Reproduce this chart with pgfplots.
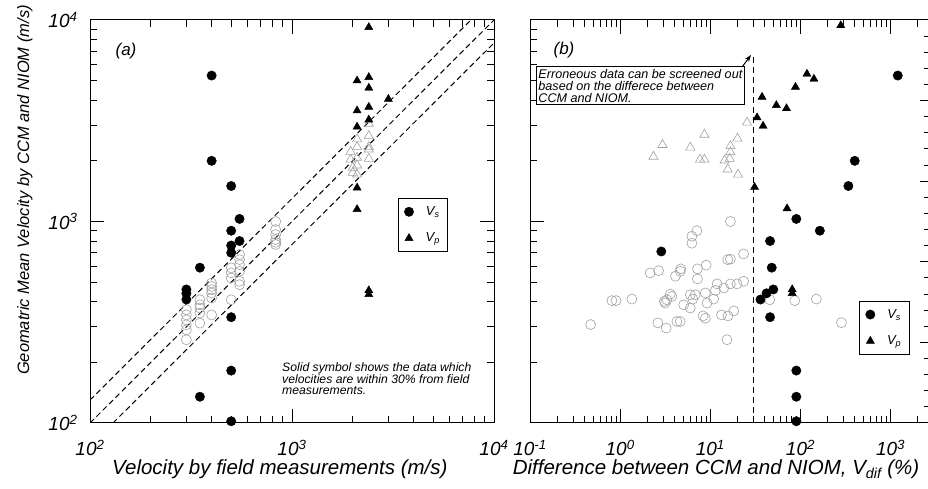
\documentclass[border=0pt]{standalone}
\usepackage{fontspec}
\setmainfont{Liberation Sans}
\usepackage{pgfplots}
\usepackage{pgfplotstable}
\pgfplotsset{compat=1.18}
\usetikzlibrary{arrows.meta}

\pgfplotstableread{
x y
300 365
300 344
300 325
300 307
300 290
300 259
350 409
350 386
350 372
350 351
350 313
400 495
400 476
400 459
400 442
400 417
400 344
500 589
500 556
500 525
500 409
550 685
550 647
550 611
550 566
550 505
550 486
830 1000
830 912
830 861
830 813
830 789
830 769
}\aGrayCirc

\pgfplotstableread{
x y
2100 2560
2100 2345
1950 2220
1950 2030
2100 2075
2100 1900
2000 1747
2100 1713
2400 3060
2400 2655
2400 2345
2400 2280
2400 2050
2000 1850
}\aGrayTri

\pgfplotstableread{
x y
400 5300
400 2000
500 1500
550 1030
500 900
550 800
500 760
500 700
350 590
300 460
300 440
300 410
500 335
500 182
350 135
500 102
}\aBlackCirc

\pgfplotstableread{
x y
2400 9200
2100 5000
2400 5200
2400 4600
3000 4050
2100 3550
2400 3700
2400 3200
2100 2950
2100 1470
2100 1150
2400 455
2400 435
}\aBlackTri

\pgfplotstableread{
x y
280 9400
118 5400
141 5100
88 4650
37.5 4150
54 3775
70 3640
33 3280
38.5 2980
31 1480
71 1160
81 460
81 440
}\bBlackTri

\pgfplotstableread{
x y
1200 5300
400 2000
340 1500
90 1030
164 900
46 800
2.86 710
48 590
50 460
42 440
36 410
46 335
90 182
90 135
90 102
}\bBlackCirc

\pgfplotstableread{
x y
25.5 3100
8.6 2700
2.95 2400
6 2330
20 2580
16.7 2370
16.7 2210
2.34 2100
7.7 2030
8.6 2030
14.4 2010
16.4 2050
15.6 1815
20.3 1710
}\bGrayTri

\pgfplotstableread{
x y
16.7 1000
7.1 900
6.25 845
6.25 780
23.4 690
15.6 647
16.7 650
9 607
7.2 582
4.7 582
2.67 570
2.15 556
4.1 535
4.64 566
7.2 519
11.9 490
16.7 490
19.8 490
23.4 505
14.1 468
11.4 455
8.8 442
3.6 436
3.75 425
6 433
6.8 433
3.3 409
3.16 394
3.1 402
6.4 412
9.2 394
10.9 412
5.06 386
6 372
0.81 405
0.9 405
1.35 412
0.47 308
2.62 314
3.24 296
4.26 319
4.64 319
8.3 340
8.8 331
13.3 344
15.7 340
18.2 360
15.3 259
45.6 409
86.5 405
150 412
285 315
}\bGrayCirc

\definecolor{lgray}{HTML}{A0A0A0}

\tikzset{
  grayCirc/.style={mark=o, mark size=5pt, draw=lgray, mark options={line width=0.6pt, draw=lgray}},
  grayTri/.style={mark=triangle, mark size=5.3pt, draw=lgray, mark options={line width=0.6pt, draw=lgray}},
  blackCirc/.style={mark=*, mark size=4.7pt, draw=black, fill=black, mark options={line width=0.4pt}},
  blackTri/.style={mark=triangle*, mark size=4.7pt, draw=black, fill=black, mark options={line width=0.4pt}},
}

\begin{document}
\begin{tikzpicture}[x=1pt,y=1pt]
\path[use as bounding box] (0,0) rectangle (928,489);

% ---------- panel (a)
\begin{axis}[at={(90pt,66pt)}, anchor=south west, scale only axis, width=404pt, height=403pt,
  xmode=log, ymode=log, xmin=100, xmax=10000, ymin=100, ymax=10000,
  axis line style={line width=1pt, black},
  tick style={line width=1pt, black},
  major tick length=14pt, minor tick length=7pt, tick align=inside,
  xtick={100,1000,10000},
  minor xtick={200,300,400,500,600,700,800,900,2000,3000,4000,5000,6000,7000,8000,9000},
  ytick={100,1000,10000},
  minor ytick={200,300,400,500,600,700,800,900,2000,3000,4000,5000,6000,7000,8000,9000},
  xticklabels={10\textsuperscript{2},10\textsuperscript{3},10\textsuperscript{4}},
  yticklabels={10\textsuperscript{2},10\textsuperscript{3},10\textsuperscript{4}},
  ticklabel style={font=\fontsize{19}{19}\selectfont\itshape},
  xticklabel style={inner sep=1pt, yshift=-16pt},
  yticklabel style={xshift=-9pt},
  xlabel={Velocity by field measurements (m/s)},
  xlabel style={at={(axis description cs:0.470,-0.129)}, anchor=base, inner sep=0pt, font=\fontsize{20.5}{22}\selectfont\itshape},
  ylabel={Geomatric Mean Velocity by CCM and NIOM (m/s)},
  ylabel style={at={(axis description cs:-0.161,0.578)}, anchor=center, font=\fontsize{16.5}{18}\selectfont\itshape},
  legend image code/.code={\draw[#1] plot coordinates {(0pt,0pt)};},
  legend style={at={(axis description cs:0.762,0.558)}, anchor=north west, draw=black, line width=0.9pt,
    font=\fontsize{13}{13}\selectfont\itshape, inner xsep=6pt, inner ysep=6pt, row sep=12pt},
]
\addplot[forget plot, black, line width=1pt, dash pattern=on 5.5pt off 3.5pt] coordinates {(100,130) (7692,10000)};
\addplot[forget plot, black, line width=1pt, dash pattern=on 5.5pt off 3.5pt] coordinates {(100,100) (10000,10000)};
\addplot[forget plot, black, line width=1pt, dash pattern=on 5.5pt off 3.5pt] coordinates {(130,100) (10000,7692)};
\addplot[forget plot, only marks, grayCirc] table {\aGrayCirc};
\addplot[forget plot, only marks, grayTri] table {\aGrayTri};
\addplot[forget plot, only marks, blackCirc] table {\aBlackCirc};
\addplot[forget plot, only marks, blackTri] table {\aBlackTri};
\addlegendimage{only marks, blackCirc}
\addlegendentry{\hspace{10pt}V\textsubscript{s}}
\addlegendimage{only marks, blackTri}
\addlegendentry{\hspace{10pt}V\textsubscript{p}}
\end{axis}

% ---------- panel (b)
\begin{axis}[at={(530pt,66pt)}, anchor=south west, scale only axis, width=399.5pt, height=403pt,
  xmode=log, ymode=log, xmin=0.1, xmax=2700, ymin=100, ymax=10000,
  axis line style={line width=1pt, black},
  tick style={line width=1pt, black},
  major tick length=14pt, minor tick length=7pt, tick align=inside,
  xtick={0.1,1,10,100,1000},
  minor xtick={0.2,0.3,0.4,0.5,0.6,0.7,0.8,0.9,2,3,4,5,6,7,8,9,20,30,40,50,60,70,80,90,200,300,400,500,600,700,800,900,2000},
  ytick={100,1000,10000},
  minor ytick={200,300,400,500,600,700,800,900,2000,3000,4000,5000,6000,7000,8000,9000},
  xticklabels={10\textsuperscript{-1},10\textsuperscript{0},10\textsuperscript{1},10\textsuperscript{2},10\textsuperscript{3}},
  yticklabels={},
  ytick pos=left,
  ticklabel style={font=\fontsize{19}{19}\selectfont\itshape},
  xticklabel style={inner sep=1pt, yshift=-16pt},
  xlabel={Difference between CCM and NIOM, V\textsubscript{dif} (\%)},
  xlabel style={at={(axis description cs:0.4656,-0.129)}, anchor=base, inner sep=0pt, font=\fontsize{20.5}{22}\selectfont\itshape},
  legend image code/.code={\draw[#1] plot coordinates {(0pt,0pt)};},
  legend style={at={(axis description cs:0.824,0.303)}, anchor=north west, draw=black, line width=0.9pt,
    font=\fontsize{13}{13}\selectfont\itshape, inner xsep=6pt, inner ysep=6pt, row sep=12pt},
]
\addplot[forget plot, black, line width=1.2pt, dash pattern=on 6pt off 4pt] coordinates {(30,100) (30,6800)};
\addplot[forget plot, only marks, grayCirc] table {\bGrayCirc};
\addplot[forget plot, only marks, grayTri] table {\bGrayTri};
\addplot[forget plot, only marks, blackCirc] table {\bBlackCirc};
\addplot[forget plot, only marks, blackTri] table {\bBlackTri};
\addlegendimage{only marks, blackCirc}
\addlegendentry{\hspace{10pt}V\textsubscript{s}}
\addlegendimage{only marks, blackTri}
\addlegendentry{\hspace{10pt}V\textsubscript{p}}
\end{axis}

% right-hand linear tick scale of panel (b)
\begin{axis}[at={(530pt,66pt)}, anchor=south west, scale only axis, width=399.5pt, height=403pt,
  xmin=0, xmax=1, ymin=0, ymax=5, hide x axis, axis y line*=right,
  ytick={0,1,2,3,4,5}, minor y tick num=4, yticklabels={},
  tick align=inside, major tick length=9.5pt, minor tick length=6pt,
  tick style={line width=1pt, black}, axis line style={line width=1pt, black}]
\end{axis}

% annotations
\node[font=\fontsize{17}{17}\selectfont\itshape] at (126,438) {(a)};
\node[font=\fontsize{17}{17}\selectfont\itshape] at (564,439) {(b)};
\node[anchor=north west, align=left, inner sep=0pt, font=\fontsize{12.2}{11.2}\selectfont\itshape]
  at (282,127) {Solid symbol shows the data which\\velocities are within 30\% from field\\measurements.};
\node[draw, line width=0.9pt, anchor=north west, align=left, inner xsep=2pt, inner ysep=2.5pt,
  fill=white, font=\fontsize{12.6}{12}\selectfont\itshape]
  at (536,423) {Erroneous data can be screened out\\based on the differece between\\CCM and NIOM.};
\draw[line width=1pt, -{Stealth[length=7pt,width=5pt]}] (742,422) -- (751,434);
\end{tikzpicture}
\end{document}
